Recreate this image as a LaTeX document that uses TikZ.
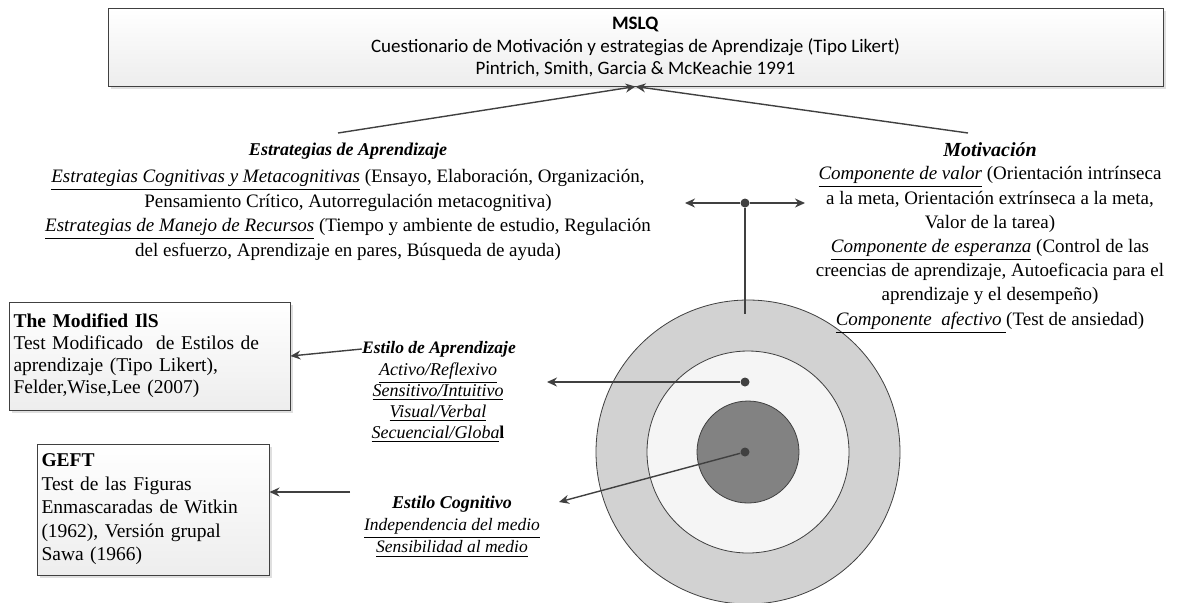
\documentclass[tikz,border=0pt]{standalone}
\usepackage{fontspec}
\setmainfont{Liberation Serif}
\newfontfamily\calibrifont{Carlito}
\usetikzlibrary{arrows.meta,shadows}
\definecolor{LineGray}{RGB}{64,64,64}
\definecolor{RingOuter}{RGB}{210,210,210}
\definecolor{RingMiddle}{RGB}{245,245,245}
\definecolor{RingInner}{RGB}{130,130,130}
\newcommand{\uit}[1]{\underline{\textit{#1}}}

\begin{document}
\begin{tikzpicture}[x=0.5pt, y=-0.5pt,
	arr/.style={-{Stealth[length=5pt,width=4.5pt]}, LineGray, line width=0.7pt},
	box/.style={draw=LineGray, line width=0.5pt, top color=white, bottom color=gray!14,
		drop shadow={shadow xshift=1.5pt, shadow yshift=-1.5pt, fill=gray!50, opacity=.5}},
	dot/.style={circle, fill=LineGray, inner sep=0pt, minimum size=4.5pt},
	ring/.style={circle, draw=LineGray, line width=0.4pt, inner sep=0pt}]
	\useasboundingbox (0,0) rectangle (1190,602);
	\clip (0,0) rectangle (1190,602);
	% instrument at the top
	\node[box, minimum width=527.5pt, minimum height=39pt, align=center,
		font=\calibrifont\fontsize{9.5}{11.25}\selectfont] (mslq) at (635.5,47)
		{\textbf{MSLQ}\\Cuestionario de Motivación y estrategias de Aprendizaje (Tipo Likert)\\Pintrich, Smith, Garcia \& McKeachie 1991};
	% rings
	\node[ring, fill=RingOuter, minimum size=152pt] (outer) at (748,452) {};
	\node[ring, fill=RingMiddle, minimum size=101pt] (middle) at (748,452) {};
	\node[ring, fill=RingInner, minimum size=51pt] (inner) at (748,452) {};
	% strategies and motivation
	\node[font=\bfseries\itshape\fontsize{9}{10}\selectfont] (estrHead) at (348,151) {Estrategias de Aprendizaje};
	\node[align=center, font=\fontsize{9.5}{12.35}\selectfont] (estrBody) at (348,215)
		{\uit{Estrategias Cognitivas y Metacognitivas} (Ensayo, Elaboración, Organización,\\
		Pensamiento Crítico, Autorregulación metacognitiva)\\
		\uit{Estrategias de Manejo de Recursos} (Tiempo y ambiente de estudio, Regulación\\
		del esfuerzo, Aprendizaje en pares, Búsqueda de ayuda)};
	\node[font=\bfseries\itshape\fontsize{10}{12}\selectfont] (motHead) at (990,150) {Motivación};
	\node[align=center, font=\fontsize{9.5}{12.1}\selectfont] (motBody) at (990,250)
		{\uit{Componente de valor} (Orientación intrínseca\\
		a la meta, Orientación extrínseca a la meta,\\
		Valor de la tarea)\\
		\uit{Componente de esperanza} (Control de las\\
		creencias de aprendizaje, Autoeficacia para el\\
		aprendizaje y el desempeño)\\
		\uit{Componente\ \ afectivo\ }(Test de ansiedad)};
	\coordinate (estrTop) at (338,133);
	\coordinate (motTop) at (968,133);
	\draw[arr] (estrTop) -- (mslq.south);
	\draw[arr] (motTop) -- (mslq.south);
	% outer ring connector
	\node[dot] (dTop) at (745,203) {};
	\coordinate (tLeft) at (685,203);
	\coordinate (tRight) at (805,203);
	\coordinate (vEnd) at (745,314);
	\draw[arr] (dTop) -- (tLeft);
	\draw[arr] (dTop) -- (tRight);
	\draw[LineGray, line width=0.7pt] (dTop) -- (vEnd);
	% learning style
	\node[font=\bfseries\itshape\fontsize{8.75}{10}\selectfont, inner sep=0pt] (apHead) at (439,349) {Estilo de Aprendizaje};
	\node[align=center, font=\itshape\fontsize{9}{10.5}\selectfont] (apBody) at (438,403)
		{\underline{Activo/Reflexivo}\\\underline{Sensitivo/Intuitivo}\\\underline{Visual/Verbal}\\\underline{Secuencial/Globa}\textbf{\upshape l}};
	\node[dot] (dMid) at (745,382) {};
	\coordinate (tMid) at (547,382);
	\draw[arr] (dMid) -- (tMid);
	% cognitive style
	\node[font=\bfseries\itshape\fontsize{9}{10}\selectfont] (cogHead) at (452,504) {Estilo Cognitivo};
	\node[align=center, font=\itshape\fontsize{8.75}{11}\selectfont] (cogBody) at (452,538)
		{\underline{Independencia del medio}\\\underline{Sensibilidad al medio}};
	\node[dot] (dIn) at (745,452) {};
	\coordinate (tIn) at (559,502);
	\draw[arr] (dIn) -- (tIn);
	% tests on the left
	\node[box, text width=136pt, inner xsep=2.25pt, minimum height=54pt, align=left,
		font=\fontsize{9.75}{11}\selectfont] (ils) at (149.5,356)
		{\textbf{The Modified IlS}\\Test Modificado\ \ de Estilos de\\aprendizaje (Tipo Likert),\\Felder,Wise,Lee (2007)\\[3pt]};
	\node[box, text width=111.5pt, inner xsep=2.25pt, minimum height=65.5pt, align=left,
		font=\fontsize{9.75}{11.75}\selectfont] (geft) at (153,509.5)
		{\textbf{GEFT}\\Test de las Figuras\\Enmascaradas de Witkin\\(1962), Versión grupal\\Sawa (1966)};
	\draw[arr] (apHead.west) -- (ils.east);
	\coordinate (cogArr) at (350,492);
	\draw[arr] (cogArr) -- (cogArr -| geft.east);
\end{tikzpicture}
\end{document}
